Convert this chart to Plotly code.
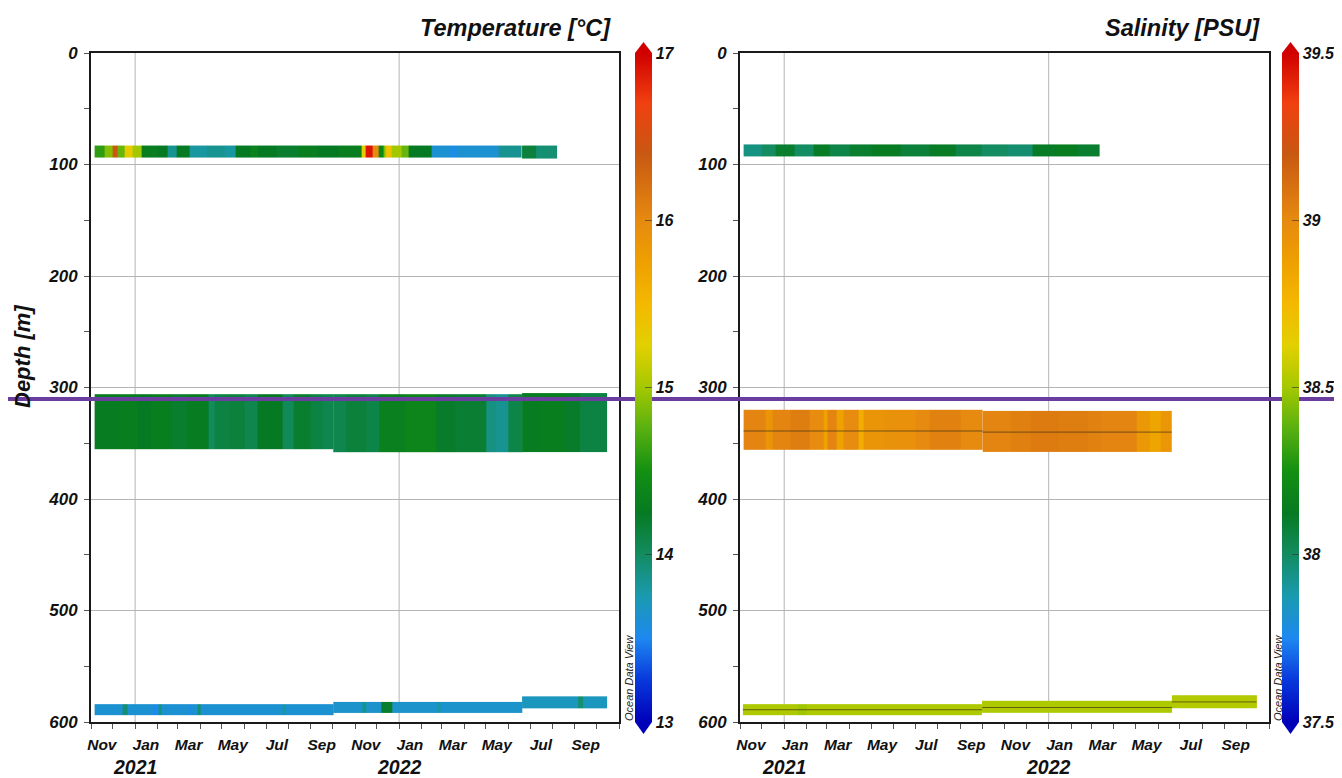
import plotly.graph_objects as go

# ---------------- DATA ----------------
month_label_dates = ["2020-11-16", "2021-01-16", "2021-03-16", "2021-05-16", "2021-07-16", "2021-09-16",
                     "2021-11-16", "2022-01-16", "2022-03-16", "2022-05-16", "2022-07-16", "2022-09-16"]
month_labels = ["Nov", "Jan", "Mar", "May", "Jul", "Sep", "Nov", "Jan", "Mar", "May", "Jul", "Sep"]
year_dates = ["2021-01-01", "2022-01-01"]
year_labels = ["2021", "2022"]
depth_ticks = [0, 100, 200, 300, 400, 500, 600]
temp_ticks = [13, 14, 15, 16, 17]
sal_ticks = [37.5, 38, 38.5, 39, 39.5]

# Temperature, ~88 m (deployments 1+2)
temp_top_a_edges = ["2020-11-06", "2020-11-20", "2020-12-01", "2020-12-08", "2020-12-17", "2020-12-28",
                    "2021-01-10", "2021-02-01", "2021-02-15", "2021-02-28", "2021-03-18", "2021-04-10",
                    "2021-05-05", "2021-05-20", "2021-06-10", "2021-06-20", "2021-07-15", "2021-08-15",
                    "2021-09-10", "2021-10-10", "2021-11-10", "2021-11-15", "2021-11-25", "2021-12-03",
                    "2021-12-10", "2021-12-14", "2021-12-22", "2022-01-04", "2022-01-14", "2022-02-15",
                    "2022-03-12", "2022-03-22", "2022-05-18", "2022-06-20"]
temp_top_a_vals = [14.6, 14.9, 16.4, 14.8, 15.3, 15.0, 14.3, 14.25, 13.85, 14.25, 13.8, 13.85,
                   13.8, 14.25, 14.35, 14.25, 14.2, 14.3, 14.25, 14.3, 15.3, 16.9, 16.0, 14.4,
                   14.9, 15.4, 15.0, 14.8, 14.25, 13.62, 13.55, 13.62, 13.85]
temp_top_a_depth = [83, 94]
# Temperature, ~88 m (deployment 3)
temp_top_b_edges = ["2022-06-20", "2022-07-10", "2022-08-07"]
temp_top_b_vals = [14.15, 13.95]
temp_top_b_depth = [83, 95]

# Temperature, ~330 m
temp_mid1_edges = ["2020-11-06", "2020-12-10", "2021-01-05", "2021-01-23", "2021-02-20", "2021-03-15",
                   "2021-04-12", "2021-04-21", "2021-05-11", "2021-06-01", "2021-06-20", "2021-07-24",
                   "2021-08-08", "2021-09-01", "2021-09-17", "2021-10-02"]
temp_mid1_vals = [14.27, 14.3, 14.25, 14.3, 14.2, 14.27, 14.02, 14.12, 14.15, 14.08, 14.25, 14.03,
                  14.2, 14.12, 14.08]
temp_mid1_depth = [306, 355]
temp_mid2_edges = ["2021-10-02", "2021-10-20", "2021-11-16", "2021-12-05", "2022-01-10", "2022-02-22",
                   "2022-03-20", "2022-05-01", "2022-05-15", "2022-06-01", "2022-06-20"]
temp_mid2_vals = [14.08, 14.15, 14.1, 14.32, 14.38, 14.22, 14.18, 13.9, 13.85, 14.1]
temp_mid2_depth = [306, 358]
temp_mid3_edges = ["2022-06-20", "2022-07-15", "2022-08-20", "2022-09-08", "2022-10-16"]
temp_mid3_vals = [14.27, 14.3, 14.22, 14.12]
temp_mid3_depth = [305, 358]

# Temperature, ~588 m
temp_bot1_edges = ["2020-11-06", "2020-12-15", "2020-12-22", "2021-01-27", "2021-02-01", "2021-02-03",
                   "2021-02-07", "2021-03-16", "2021-03-20", "2021-03-28", "2021-04-01", "2021-07-24",
                   "2021-07-28", "2021-10-02"]
temp_bot1_vals = [13.62, 13.95, 13.62, 13.5, 13.62, 13.9, 13.62, 13.55, 13.62, 13.95, 13.62, 13.8, 13.62]
temp_bot1_depth = [584, 594]
temp_bot2_edges = ["2021-10-02", "2021-11-11", "2021-11-16", "2021-12-08", "2021-12-23", "2022-02-23",
                   "2022-02-27", "2022-06-20"]
temp_bot2_vals = [13.65, 13.85, 13.65, 14.2, 13.65, 13.8, 13.65]
temp_bot2_depth = [582, 592]
temp_bot3_edges = ["2022-06-20", "2022-09-06", "2022-09-13", "2022-10-16"]
temp_bot3_vals = [13.7, 13.95, 13.7]
temp_bot3_depth = [577, 588]

# Salinity, ~88 m
sal_top_edges = ["2020-11-06", "2020-12-01", "2020-12-20", "2021-01-15", "2021-02-10", "2021-03-05",
                 "2021-04-01", "2021-05-01", "2021-06-10", "2021-07-20", "2021-08-25", "2021-10-01",
                 "2021-11-05", "2021-12-10", "2022-01-10", "2022-02-10", "2022-03-12"]
sal_top_vals = [37.95, 38.0, 38.1, 38.0, 38.12, 38.05, 38.1, 38.13, 38.08, 38.12, 38.05, 38.0,
                37.98, 38.12, 38.14, 38.1]
sal_top_depth = [82, 93]

# Salinity, ~340 m
sal_mid1_edges = ["2020-11-06", "2020-12-06", "2020-12-16", "2021-01-10", "2021-02-05", "2021-02-25",
                  "2021-03-02", "2021-03-14", "2021-03-24", "2021-04-13", "2021-04-20", "2021-05-20",
                  "2021-07-01", "2021-07-21", "2021-09-01", "2021-10-02"]
sal_mid1_vals = [39.02, 38.94, 39.02, 39.05, 38.99, 38.87, 39.02, 38.87, 38.99, 38.8, 38.94, 38.96,
                 39.0, 39.03, 39.0]
sal_mid1_depth = [320, 356]
sal_mid2_edges = ["2021-10-02", "2021-11-10", "2021-12-07", "2022-01-15", "2022-02-24", "2022-03-14",
                  "2022-05-03", "2022-05-20", "2022-06-05", "2022-06-20"]
sal_mid2_vals = [39.02, 39.04, 39.06, 39.05, 39.03, 39.02, 38.92, 38.85, 38.93]
sal_mid2_depth = [321, 358]

# Salinity, ~588 m
sal_bot1_edges = ["2020-11-05", "2021-01-20", "2021-02-01", "2021-10-01"]
sal_bot1_vals = [38.52, 38.49, 38.52]
sal_bot1_depth = [584, 594]
sal_bot2_edges = ["2021-10-01", "2022-06-20"]
sal_bot2_vals = [38.52]
sal_bot2_depth = [581, 592]
sal_bot3_edges = ["2022-06-20", "2022-10-15"]
sal_bot3_vals = [38.53]
sal_bot3_depth = [576, 588]

# instrument depth traces in the salinity panel
sal_line_dates = [["2020-11-06", "2021-10-02"], ["2021-10-02", "2022-06-20"],
                  ["2020-11-05", "2021-10-01"], ["2021-10-01", "2022-06-20"], ["2022-06-20", "2022-10-15"]]
sal_line_depths = [[339, 339], [340, 340], [589, 589], [587, 587], [582, 582]]

# ---------------- STYLE ----------------
FONT = "Liberation Sans"
odv_scale = [
    [0.0, "#0000b8"], [0.0625, "#0838dc"], [0.125, "#1e88f0"], [0.1875, "#1a9ab0"],
    [0.25, "#138c62"], [0.3125, "#067a22"], [0.375, "#139012"], [0.4375, "#58b010"],
    [0.5, "#a4c800"], [0.5625, "#e2d000"], [0.625, "#f4b800"], [0.6875, "#eea000"],
    [0.75, "#e68a10"], [0.85, "#c85812"], [0.925, "#f04010"], [1.0, "#d00000"],
]
PAGE_W, PAGE_H, BODY = 1342, 778, 8
W, H = PAGE_W - 2 * BODY, PAGE_H - BODY


def px_x(p):
    return (p - BODY) / W


def px_y(p):
    return (H - (p - BODY)) / H


left_dom = [px_x(91), px_x(619)]
right_dom = [px_x(740), px_x(1269)]
y_dom = [px_y(722), px_y(53)]

fig = go.Figure()


def band(edges, vals, depth, cax, xa, ya):
    fig.add_trace(go.Heatmap(x=edges, y=depth, z=[vals], coloraxis=cax, xaxis=xa, yaxis=ya,
                             hoverinfo="skip"))


band(temp_top_a_edges, temp_top_a_vals, temp_top_a_depth, "coloraxis", "x", "y")
band(temp_top_b_edges, temp_top_b_vals, temp_top_b_depth, "coloraxis", "x", "y")
band(temp_mid1_edges, temp_mid1_vals, temp_mid1_depth, "coloraxis", "x", "y")
band(temp_mid2_edges, temp_mid2_vals, temp_mid2_depth, "coloraxis", "x", "y")
band(temp_mid3_edges, temp_mid3_vals, temp_mid3_depth, "coloraxis", "x", "y")
band(temp_bot1_edges, temp_bot1_vals, temp_bot1_depth, "coloraxis", "x", "y")
band(temp_bot2_edges, temp_bot2_vals, temp_bot2_depth, "coloraxis", "x", "y")
band(temp_bot3_edges, temp_bot3_vals, temp_bot3_depth, "coloraxis", "x", "y")

band(sal_top_edges, sal_top_vals, sal_top_depth, "coloraxis2", "x2", "y2")
band(sal_mid1_edges, sal_mid1_vals, sal_mid1_depth, "coloraxis2", "x2", "y2")
band(sal_mid2_edges, sal_mid2_vals, sal_mid2_depth, "coloraxis2", "x2", "y2")
band(sal_bot1_edges, sal_bot1_vals, sal_bot1_depth, "coloraxis2", "x2", "y2")
band(sal_bot2_edges, sal_bot2_vals, sal_bot2_depth, "coloraxis2", "x2", "y2")
band(sal_bot3_edges, sal_bot3_vals, sal_bot3_depth, "coloraxis2", "x2", "y2")

for d, z in zip(sal_line_dates, sal_line_depths):
    fig.add_trace(go.Scatter(x=d, y=z, mode="lines", xaxis="x2", yaxis="y2",
                             line=dict(color="rgba(70,50,20,0.7)", width=1), hoverinfo="skip",
                             showlegend=False))

tick_font = dict(family=FONT, size=15.5, color="#111", weight="bold", style="italic")
ytick_font = dict(family=FONT, size=17, color="#111", weight="bold", style="italic")
cb_font = dict(family=FONT, size=16, color="#111", weight="bold", style="italic")


def xaxis_cfg(dom, anchor):
    return dict(domain=dom, anchor=anchor, type="date", range=["2020-11-01", "2022-11-01"],
                tickmode="array", tickvals=month_label_dates, ticktext=month_labels, ticks="",
                showgrid=False, zeroline=False, showline=True, mirror=True, linecolor="#1a1a1a",
                linewidth=2, tickfont=tick_font, ticklabelstandoff=7, fixedrange=True,
                automargin=False,
                minor=dict(tickmode="linear", tick0="2020-11-01", dtick="M1", ticks="outside",
                           ticklen=5, tickcolor="#555", showgrid=False))


def yaxis_cfg(dom, anchor):
    return dict(domain=dom, anchor=anchor, range=[600, 0], tickmode="array", tickvals=depth_ticks,
                ticks="outside", ticklen=5, tickcolor="#555", showgrid=True, gridcolor="#b4b4b4",
                gridwidth=1, zeroline=False, showline=True, mirror=True, linecolor="#1a1a1a",
                linewidth=2, tickfont=ytick_font, ticklabelstandoff=3, fixedrange=True,
                automargin=False,
                minor=dict(tickmode="linear", tick0=0, dtick=50, ticks="outside", ticklen=5,
                           tickcolor="#555", showgrid=False))


def cbar(xpos, ticks):
    return dict(x=xpos, xanchor="left", y=(y_dom[0] + y_dom[1]) / 2, yanchor="middle",
                lenmode="pixels", len=669, thicknessmode="pixels", thickness=17, xpad=0, ypad=0,
                outlinewidth=0, tickmode="array", tickvals=ticks, ticktext=[str(t) for t in ticks],
                ticks="inside", ticklen=7, tickcolor="rgba(50,50,50,0.6)",
                tickfont=cb_font)


fig.update_layout(
    width=W, height=H, margin=dict(l=0, r=0, t=0, b=0, pad=0, autoexpand=False),
    paper_bgcolor="white", plot_bgcolor="white", showlegend=False,
    font=dict(family=FONT, color="#111"),
    xaxis=xaxis_cfg(left_dom, "y"), yaxis=yaxis_cfg(y_dom, "x"),
    xaxis2=xaxis_cfg(right_dom, "y2"), yaxis2=yaxis_cfg(y_dom, "x2"),
    coloraxis=dict(colorscale=odv_scale, cmin=13, cmax=17, colorbar=cbar(px_x(635), temp_ticks)),
    coloraxis2=dict(colorscale=odv_scale, cmin=37.5, cmax=39.5, colorbar=cbar(px_x(1282), sal_ticks)),
)

# vertical year gridlines
for xa, ya in (("x", "y"), ("x2", "y2")):
    for d in year_dates:
        fig.add_shape(type="line", xref=xa, yref=ya + " domain", x0=d, x1=d, y0=0, y1=1,
                      line=dict(color="#b4b4b4", width=1), layer="below")

# colorbar end arrows
for cx in (635, 1282):
    x0, x1, xm = px_x(cx), px_x(cx + 17), px_x(cx + 8.5)
    fig.add_shape(type="path", xref="paper", yref="paper",
                  path=f"M {x0} {px_y(53)} L {x1} {px_y(53)} L {xm} {px_y(42)} Z",
                  fillcolor="#d00000", line=dict(width=0))
    fig.add_shape(type="path", xref="paper", yref="paper",
                  path=f"M {x0} {px_y(722)} L {x1} {px_y(722)} L {xm} {px_y(734)} Z",
                  fillcolor="#0000b8", line=dict(width=0))

# purple overlay line
fig.add_shape(type="line", xref="paper", yref="paper", x0=px_x(8), x1=1.0, y0=px_y(399), y1=px_y(399),
              line=dict(color="#6a3d9f", width=4))

title_font = dict(family=FONT, size=23.5, color="#111", weight="bold", style="italic")
ann = [
    dict(text="Temperature [°C]", x=px_x(613), y=px_y(28), xanchor="right", yanchor="middle",
         font=title_font),
    dict(text="Salinity [PSU]", x=px_x(1262), y=px_y(28), xanchor="right", yanchor="middle",
         font=title_font),
    dict(text="Depth [m]", x=px_x(22), y=px_y(357), xanchor="center", yanchor="middle",
         textangle=-90, font=dict(family=FONT, size=22, color="#111", weight="bold", style="italic")),
]
for cx in (629, 1278):
    ann.append(dict(text="Ocean Data View", x=px_x(cx), y=px_y(678), xanchor="center",
                    yanchor="middle", textangle=-90,
                    font=dict(family=FONT, size=11, color="#222", style="italic")))
for xa in ("x", "x2"):
    for d, t in zip(year_dates, year_labels):
        ann.append(dict(text=t, x=d, xref=xa, y=px_y(767), yref="paper", xanchor="center",
                        yanchor="middle", showarrow=False,
                        font=dict(family=FONT, size=19.5, color="#111", weight="bold", style="italic")))
for a in ann:
    a.setdefault("xref", "paper")
    a.setdefault("yref", "paper")
    a["showarrow"] = False
    fig.add_annotation(**a)

fig.write_html("out.html")
